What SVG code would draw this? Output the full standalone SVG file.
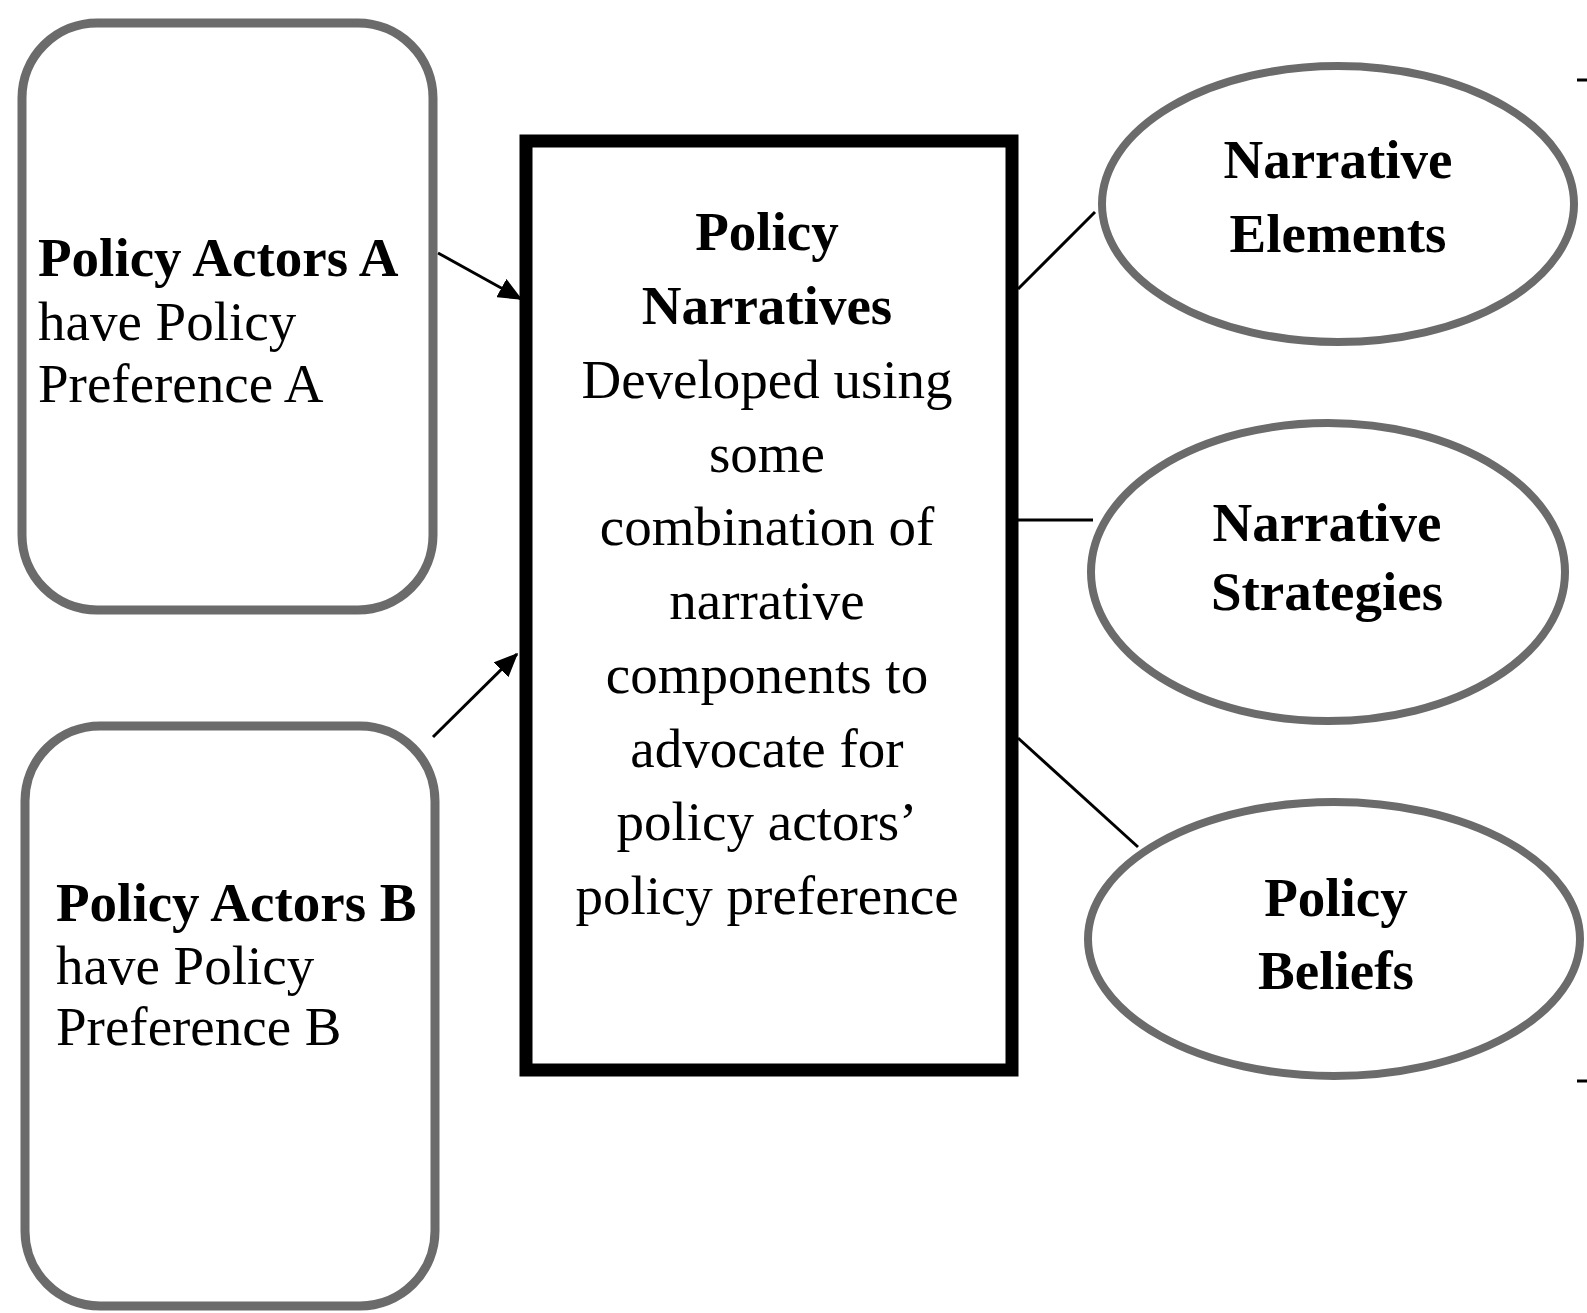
<svg xmlns="http://www.w3.org/2000/svg" width="1587" height="1313" viewBox="0 0 1587 1313">
<style>
.bg{fill:#ffffff}
.rnd{fill:#ffffff;stroke:#6b6b6b;stroke-width:9}
.ell{fill:#ffffff;stroke:#6b6b6b;stroke-width:8}
.main{fill:#ffffff;stroke:#000000;stroke-width:13}
.t{font-family:"Liberation Serif","Times New Roman",serif;font-size:55px;fill:#000000}
.b{font-weight:bold}
.c{text-anchor:middle}
.ln{stroke:#000000;stroke-width:3;fill:none}
</style>
<defs>
<marker id="arr" markerWidth="8" markerHeight="7" refX="7.5" refY="3.5" orient="auto" markerUnits="strokeWidth">
<path d="M0,0 L8,3.5 L0,7 Z" fill="#000000"/>
</marker>
</defs>
<rect class="bg" x="0" y="0" width="1587" height="1313"/>
<g id="connectors">
<line class="ln" x1="438" y1="253" x2="521" y2="299" marker-end="url(#arr)"/>
<line class="ln" x1="433" y1="737" x2="517" y2="654" marker-end="url(#arr)"/>
<line class="ln" x1="1018" y1="289" x2="1095" y2="212"/>
<line class="ln" x1="1018" y1="520" x2="1093" y2="520"/>
<line class="ln" x1="1018" y1="738" x2="1138" y2="847"/>
<line class="ln" x1="1577" y1="80" x2="1587" y2="80"/>
<line class="ln" x1="1577" y1="1081" x2="1587" y2="1081"/>
</g>
<g id="actorsA">
<rect class="rnd" x="22" y="23" width="411" height="587" rx="75" ry="75"/>
<text class="t b" x="38" y="276">Policy Actors A</text>
<text class="t" x="38" y="340">have Policy</text>
<text class="t" x="38" y="402">Preference A</text>
</g>
<g id="actorsB">
<rect class="rnd" x="25" y="726" width="410" height="580" rx="75" ry="75"/>
<text class="t b" x="56" y="921">Policy Actors B</text>
<text class="t" x="56" y="984">have Policy</text>
<text class="t" x="56" y="1045">Preference B</text>
</g>
<g id="narratives">
<rect class="main" x="526" y="141" width="486" height="929"/>
<text class="t b c" x="767" y="250">Policy</text>
<text class="t b c" x="767" y="324">Narratives</text>
<text class="t c" x="767" y="398">Developed using</text>
<text class="t c" x="767" y="472">some</text>
<text class="t c" x="767" y="545">combination of</text>
<text class="t c" x="767" y="619">narrative</text>
<text class="t c" x="767" y="693">components to</text>
<text class="t c" x="767" y="767">advocate for</text>
<text class="t c" x="767" y="840">policy actors’</text>
<text class="t c" x="767" y="914">policy preference</text>
</g>
<g id="elements">
<ellipse class="ell" cx="1338" cy="204" rx="236" ry="138"/>
<text class="t b c" x="1338" y="178">Narrative</text>
<text class="t b c" x="1338" y="252">Elements</text>
</g>
<g id="strategies">
<ellipse class="ell" cx="1328" cy="572" rx="237" ry="149"/>
<text class="t b c" x="1327" y="541">Narrative</text>
<text class="t b c" x="1327" y="610">Strategies</text>
</g>
<g id="beliefs">
<ellipse class="ell" cx="1334" cy="939" rx="246" ry="137"/>
<text class="t b c" x="1336" y="916">Policy</text>
<text class="t b c" x="1336" y="989">Beliefs</text>
</g>
</svg>
